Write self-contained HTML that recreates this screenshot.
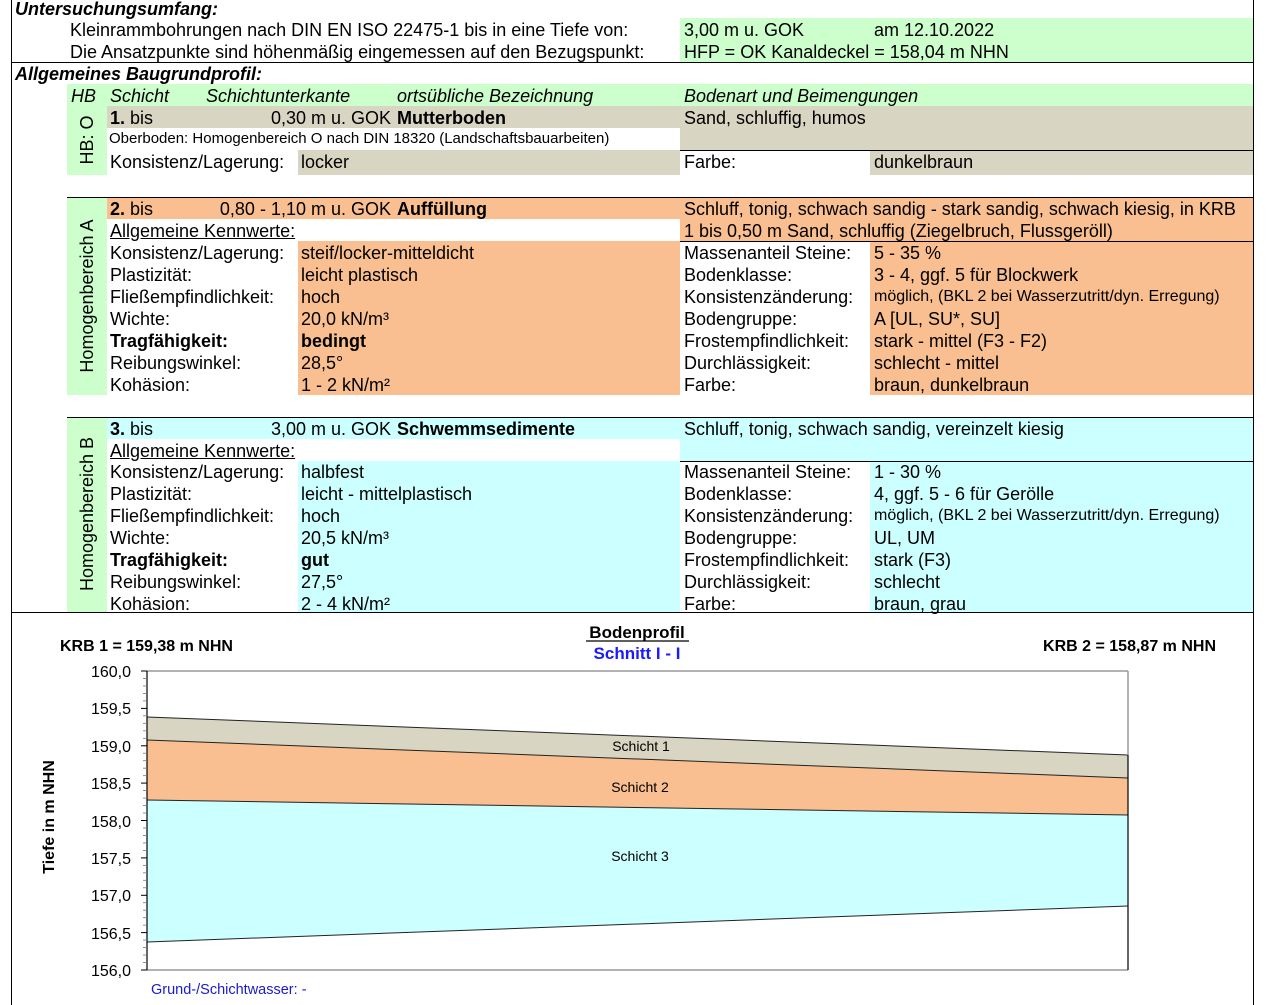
<!DOCTYPE html>
<html><head><meta charset="utf-8">
<style>
body{margin:0;width:1277px;height:1005px;position:relative;background:#fff;overflow:hidden;font-family:"Liberation Sans",Arial,sans-serif;color:#000}
.b{position:absolute}
.t{position:absolute;font-size:18px;line-height:22px;white-space:nowrap}
.t span.sm{font-size:16px;display:inline-block;height:22px;line-height:22px;vertical-align:top}
.g{background:#ccffcc}.s{background:#d9d5c3}.o{background:#f9bf90}.c{background:#ccffff}.w{background:#fff}
.hl{position:absolute;height:1px;background:#000}
.vl{position:absolute;width:1px;background:#000}
i{font-style:italic}
.u{text-decoration:underline}
.r{text-align:right}
.rot{position:absolute;transform:rotate(-90deg);transform-origin:center;white-space:nowrap;font-size:18px;text-align:center}
</style></head><body>
<div class="vl" style="left:11px;top:0;height:1005px"></div>
<div class="vl" style="left:1253px;top:0;height:1005px"></div>
<div class="hl" style="left:11px;top:62px;width:1243px"></div>
<div class="hl" style="left:11px;top:612px;width:1243px"></div>

<div class="t" style="left:15px;top:-2px;font-weight:bold;font-style:italic">Untersuchungsumfang:</div>
<div class="b g" style="left:680px;top:18px;width:573px;height:44px"></div>
<div class="t" style="left:70px;top:19px">Kleinrammbohrungen nach DIN EN ISO 22475-1 bis in eine Tiefe von:</div>
<div class="t" style="left:70px;top:41px">Die Ansatzpunkte sind höhenmäßig eingemessen auf den Bezugspunkt:</div>
<div class="t" style="left:684px;top:19px">3,00 m u. GOK</div>
<div class="t" style="left:874px;top:19px">am 12.10.2022</div>
<div class="t" style="left:684px;top:41px">HFP = OK Kanaldeckel = 158,04 m NHN</div>

<div class="t" style="left:15px;top:63px;font-weight:bold;font-style:italic">Allgemeines Baugrundprofil:</div>
<div class="b g" style="left:67px;top:84px;width:1186px;height:22px"></div>
<div class="t" style="left:71px;top:85px"><i>HB</i></div>
<div class="t" style="left:110px;top:85px"><i>Schicht</i></div>
<div class="t" style="left:206px;top:85px"><i>Schichtunterkante</i></div>
<div class="t" style="left:397px;top:85px"><i>ortsübliche Bezeichnung</i></div>
<div class="t" style="left:684px;top:85px"><i>Bodenart und Beimengungen</i></div>
<div class="hl" style="left:107px;top:106px;width:1146px"></div>

<div class="b g" style="left:67px;top:106px;width:40px;height:69px"></div>
<div class="b s" style="left:107px;top:106px;width:1146px;height:22px"></div>
<div class="b w" style="left:107px;top:128px;width:573px;height:22px"></div>
<div class="b s" style="left:680px;top:128px;width:573px;height:22px"></div>
<div class="b s" style="left:298px;top:150px;width:382px;height:25px"></div>
<div class="b s" style="left:870px;top:150px;width:383px;height:25px"></div>
<div class="hl" style="left:680px;top:150px;width:573px"></div>
<div class="rot" style="left:37px;top:129px;width:100px;height:22px;line-height:22px">HB: O</div>
<div class="t" style="left:110px;top:107px"><b>1.</b> bis</div>
<div class="t r" style="left:200px;top:107px;width:191px">0,30 m u. GOK</div>
<div class="t" style="left:397px;top:107px;font-weight:bold">Mutterboden</div>
<div class="t" style="left:684px;top:107px">Sand, schluffig, humos</div>
<div class="t" style="left:109px;top:128px;font-size:15px">Oberboden: Homogenbereich O nach DIN 18320 (Landschaftsbauarbeiten)</div>
<div class="t" style="left:110px;top:151px">Konsistenz/Lagerung:</div>
<div class="t" style="left:301px;top:151px">locker</div>
<div class="t" style="left:684px;top:151px">Farbe:</div>
<div class="t" style="left:874px;top:151px">dunkelbraun</div>

<div class="hl" style="left:67px;top:197px;width:1186px"></div>
<div class="b g" style="left:67px;top:198px;width:40px;height:197px"></div>
<div class="b o" style="left:107px;top:198px;width:1146px;height:21px"></div>
<div class="b o" style="left:680px;top:219px;width:573px;height:176px"></div>
<div class="b o" style="left:298px;top:241px;width:382px;height:154px"></div>
<div class="b w" style="left:680px;top:241px;width:190px;height:154px"></div>
<div class="hl" style="left:680px;top:241px;width:573px"></div>
<div class="rot" style="left:-13px;top:285px;width:200px;height:22px;line-height:22px">Homogenbereich A</div>
<div class="t" style="left:110px;top:198px"><b>2.</b> bis</div>
<div class="t r" style="left:200px;top:198px;width:191px">0,80 - 1,10 m u. GOK</div>
<div class="t" style="left:397px;top:198px;font-weight:bold">Auffüllung</div>
<div class="t" style="left:684px;top:198px">Schluff, tonig, schwach sandig - stark sandig, schwach kiesig, in KRB</div>
<div class="t u" style="left:110px;top:220px">Allgemeine Kennwerte:</div>
<div class="t" style="left:684px;top:220px">1 bis 0,50 m Sand, schluffig (Ziegelbruch, Flussgeröll)</div>
<div class="t" style="left:110px;top:242px">Konsistenz/Lagerung:<br>Plastizität:<br>Fließempfindlichkeit:<br>Wichte:<br><b>Tragfähigkeit:</b><br>Reibungswinkel:<br>Kohäsion:</div>
<div class="t" style="left:301px;top:242px">steif/locker-mitteldicht<br>leicht plastisch<br>hoch<br>20,0 kN/m³<br><b>bedingt</b><br>28,5°<br>1 - 2 kN/m²</div>
<div class="t" style="left:684px;top:242px">Massenanteil Steine:<br>Bodenklasse:<br>Konsistenzänderung:<br>Bodengruppe:<br>Frostempfindlichkeit:<br>Durchlässigkeit:<br>Farbe:</div>
<div class="t" style="left:874px;top:242px">5 - 35 %<br>3 - 4, ggf. 5 für Blockwerk<br><span class="sm">möglich, (BKL 2 bei Wasserzutritt/dyn. Erregung)</span><br>A [UL, SU*, SU]<br>stark - mittel (F3 - F2)<br>schlecht - mittel<br>braun, dunkelbraun</div>

<div class="hl" style="left:67px;top:417px;width:1186px"></div>
<div class="b g" style="left:67px;top:418px;width:40px;height:194px"></div>
<div class="b c" style="left:107px;top:418px;width:1146px;height:21px"></div>
<div class="b c" style="left:680px;top:439px;width:573px;height:173px"></div>
<div class="b c" style="left:298px;top:461px;width:382px;height:151px"></div>
<div class="b w" style="left:680px;top:461px;width:190px;height:151px"></div>
<div class="hl" style="left:680px;top:461px;width:573px"></div>
<div class="rot" style="left:-13px;top:503px;width:200px;height:22px;line-height:22px">Homogenbereich B</div>
<div class="t" style="left:110px;top:418px"><b>3.</b> bis</div>
<div class="t r" style="left:200px;top:418px;width:191px">3,00 m u. GOK</div>
<div class="t" style="left:397px;top:418px;font-weight:bold">Schwemmsedimente</div>
<div class="t" style="left:684px;top:418px">Schluff, tonig, schwach sandig, vereinzelt kiesig</div>
<div class="t u" style="left:110px;top:440px">Allgemeine Kennwerte:</div>
<div class="t" style="left:110px;top:461px">Konsistenz/Lagerung:<br>Plastizität:<br>Fließempfindlichkeit:<br>Wichte:<br><b>Tragfähigkeit:</b><br>Reibungswinkel:<br>Kohäsion:</div>
<div class="t" style="left:301px;top:461px">halbfest<br>leicht - mittelplastisch<br>hoch<br>20,5 kN/m³<br><b>gut</b><br>27,5°<br>2 - 4 kN/m²</div>
<div class="t" style="left:684px;top:461px">Massenanteil Steine:<br>Bodenklasse:<br>Konsistenzänderung:<br>Bodengruppe:<br>Frostempfindlichkeit:<br>Durchlässigkeit:<br>Farbe:</div>
<div class="t" style="left:874px;top:461px">1 - 30 %<br>4, ggf. 5 - 6 für Gerölle<br><span class="sm">möglich, (BKL 2 bei Wasserzutritt/dyn. Erregung)</span><br>UL, UM<br>stark (F3)<br>schlecht<br>braun, grau</div>

<svg class="b" style="left:0;top:612px" width="1277" height="393" viewBox="0 612 1277 393" font-family="Liberation Sans, Arial, sans-serif">
<text x="60" y="651" font-size="16" font-weight="bold">KRB 1 = 159,38 m NHN</text>
<text x="1216" y="651" font-size="16" font-weight="bold" text-anchor="end">KRB 2 = 158,87 m NHN</text>
<text x="637" y="638" font-size="17" font-weight="bold" text-anchor="middle">Bodenprofil</text>
<line x1="586" y1="641" x2="689" y2="641" stroke="#000" stroke-width="1.3"/>
<text x="637" y="659" font-size="17" font-weight="bold" text-anchor="middle" fill="#1a1aff">Schnitt I - I</text>
<polygon points="147,717 1128,755 1128,778 147,740" fill="#d9d5c3"/>
<polygon points="147,740 1128,778 1128,815 147,800" fill="#f9bf90"/>
<polygon points="147,800 1128,815 1128,906 147,942" fill="#ccffff"/>
<g stroke="#222" stroke-width="1" fill="none">
<line x1="147" y1="717" x2="1128" y2="755"/>
<line x1="147" y1="740" x2="1128" y2="778"/>
<line x1="147" y1="800" x2="1128" y2="815"/>
<line x1="147" y1="942" x2="1128" y2="906"/>
</g>
<g stroke="#999" stroke-width="1.5"><line x1="147" y1="671" x2="1128" y2="671"/><line x1="1128" y1="671" x2="1128" y2="755"/><line x1="147" y1="970" x2="1128" y2="970"/></g>
<line x1="1128" y1="755" x2="1128" y2="970" stroke="#000" stroke-width="1.2"/>
<line x1="147" y1="671" x2="147" y2="970" stroke="#000" stroke-width="1.2"/>
<g stroke="#000" stroke-width="1">
<line x1="141" y1="671" x2="147" y2="671"/><line x1="141" y1="708.4" x2="147" y2="708.4"/><line x1="141" y1="745.8" x2="147" y2="745.8"/><line x1="141" y1="783.1" x2="147" y2="783.1"/><line x1="141" y1="820.5" x2="147" y2="820.5"/><line x1="141" y1="857.9" x2="147" y2="857.9"/><line x1="141" y1="895.3" x2="147" y2="895.3"/><line x1="141" y1="932.6" x2="147" y2="932.6"/><line x1="141" y1="970" x2="147" y2="970"/>
</g>
<g stroke="#777" stroke-width="0.8" id="minor"></g>
<g font-size="16" text-anchor="end">
<text x="131" y="677">160,0</text><text x="131" y="714">159,5</text><text x="131" y="752">159,0</text><text x="131" y="789">158,5</text><text x="131" y="827">158,0</text><text x="131" y="864">157,5</text><text x="131" y="901">157,0</text><text x="131" y="939">156,5</text><text x="131" y="976">156,0</text>
</g>
<text transform="translate(54,817) rotate(-90)" font-size="16" font-weight="bold" text-anchor="middle">Tiefe in  m NHN</text>
<g font-size="14" text-anchor="middle">
<text x="641" y="751">Schicht 1</text><text x="640" y="792">Schicht 2</text><text x="640" y="861">Schicht 3</text>
</g>
<text x="151" y="994" font-size="14.5" fill="#1a1acc">Grund-/Schichtwasser: -</text>
</svg>
<script>
var g=document.getElementById('minor'),s='';
for(var i=0;i<=40;i++){if(i%5==0)continue;var y=671+i*7.475;s+='<line x1="143" y1="'+y+'" x2="147" y2="'+y+'"/>';}
g.innerHTML=s;
</script>
</body></html>
